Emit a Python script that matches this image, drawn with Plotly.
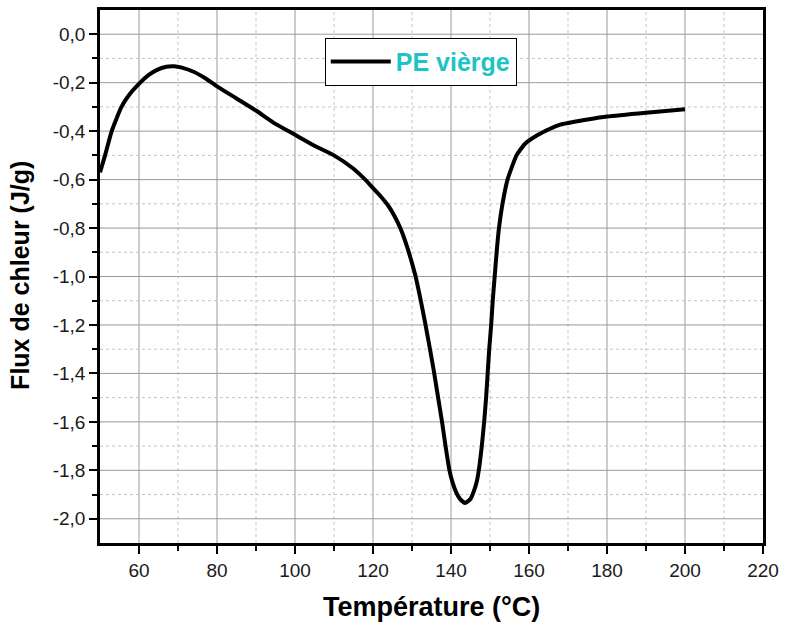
import plotly.graph_objects as go

# --- data ---
temperature = [50, 51.3, 53, 55.5, 57.5, 60.3, 62.5, 64.5, 67, 69, 71, 74, 77, 80, 85, 90, 95,
               100, 105, 110, 115, 118, 120, 122, 124, 125.5, 127, 128, 129, 130, 131, 132,
               133.3, 134.5, 135.6, 136.7, 137.7, 138.6, 139.6, 140.4, 141.3, 142.3, 143.6,
               145, 146, 146.7, 147.3, 147.9, 148.5, 149, 149.4, 149.8, 150.3, 150.7, 151.2,
               151.7, 152.3, 153.2, 154.5, 156.8, 159, 162, 165.4, 168, 171.3, 175, 180, 190, 200]
heat_flow = [-0.57, -0.50, -0.40, -0.30, -0.25, -0.20, -0.168, -0.148, -0.134, -0.132, -0.138,
             -0.155, -0.182, -0.215, -0.265, -0.315, -0.37, -0.415, -0.46, -0.50, -0.555, -0.60,
             -0.635, -0.67, -0.71, -0.75, -0.80, -0.842, -0.89, -0.945, -1.005, -1.08, -1.185,
             -1.29, -1.39, -1.5, -1.6, -1.7, -1.8, -1.85, -1.89, -1.918, -1.935, -1.918, -1.88,
             -1.84, -1.78, -1.7, -1.6, -1.5, -1.4, -1.3, -1.2, -1.1, -1.0, -0.9, -0.8, -0.7,
             -0.6, -0.5, -0.452, -0.418, -0.39, -0.373, -0.362, -0.352, -0.34, -0.324, -0.31]
series_name = "PE vièrge"
x_title = "Température (°C)"
y_title = "Flux de chleur (J/g)"

x_tickvals = [60, 80, 100, 120, 140, 160, 180, 200, 220]
x_ticktext = ["60", "80", "100", "120", "140", "160", "180", "200", "220"]
x_minor = [70, 90, 110, 130, 150, 170, 190, 210]
y_tickvals = [0.0, -0.2, -0.4, -0.6, -0.8, -1.0, -1.2, -1.4, -1.6, -1.8, -2.0]
y_ticktext = ["0,0", "-0,2", "-0,4", "-0,6", "-0,8", "-1,0", "-1,2", "-1,4", "-1,6", "-1,8", "-2,0"]
y_minor = [-0.1, -0.3, -0.5, -0.7, -0.9, -1.1, -1.3, -1.5, -1.7, -1.9]

FONT = "Liberation Sans, Arial, sans-serif"
MAJOR_GRID = dict(color="#9a9a9a", width=1)
MINOR_GRID = dict(color="#c4c4c4", width=1, dash="dot")

fig = go.Figure()

# grid lines (drawn below the data, from the tick lists)
for v in x_tickvals[:-1]:
    fig.add_vline(x=v, line=MAJOR_GRID, layer="below")
for v in x_minor:
    fig.add_vline(x=v, line=MINOR_GRID, layer="below")
for v in y_tickvals:
    fig.add_hline(y=v, line=MAJOR_GRID, layer="below")
for v in y_minor:
    fig.add_hline(y=v, line=MINOR_GRID, layer="below")

fig.add_trace(go.Scatter(
    x=temperature, y=heat_flow, mode="lines", name=series_name,
    line=dict(color="black", width=4, shape="spline", smoothing=0.5),
    showlegend=True,
))

axis_common = dict(
    showline=True, linecolor="black", linewidth=2.5, mirror=True,
    ticks="outside", ticklen=8, tickwidth=2, tickcolor="black",
    showgrid=False, zeroline=False,
    tickfont=dict(family=FONT, size=19, color="#1a1a1a"),
)
minor_common = dict(ticks="outside", ticklen=5, tickwidth=2, tickcolor="black", showgrid=False)

fig.update_xaxes(
    range=[50, 220], tickmode="array", tickvals=x_tickvals, ticktext=x_ticktext,
    minor=dict(tickmode="array", tickvals=x_minor, **minor_common),
    **axis_common,
)
fig.update_yaxes(
    range=[-2.1, 0.1], tickmode="array", tickvals=y_tickvals, ticktext=y_ticktext,
    minor=dict(tickmode="array", tickvals=y_minor, **minor_common),
    **axis_common,
)

# axis titles placed as paper-anchored text
fig.add_annotation(text=x_title, xref="paper", yref="paper", x=0.5, y=-0.12,
                   xanchor="center", yanchor="middle", showarrow=False,
                   font=dict(family=FONT, size=27, color="black", weight="bold"))
fig.add_annotation(text=y_title, xref="paper", yref="paper", x=-0.1207, y=0.503,
                   xanchor="center", yanchor="middle", showarrow=False, textangle=-90,
                   font=dict(family=FONT, size=25, color="black", weight="bold"))

fig.update_layout(
    width=785, height=633,
    margin=dict(l=100, r=22, t=10, b=90, autoexpand=False),
    paper_bgcolor="white", plot_bgcolor="white",
    font=dict(family=FONT),
    legend=dict(
        x=0.339, y=0.948, xanchor="left", yanchor="top",
        bgcolor="white", bordercolor="black", borderwidth=1,
        font=dict(family=FONT, size=25, color="#1ec4c4", weight="bold"),
        itemwidth=60, tracegroupgap=0,
    ),
)

fig.write_html("out.html", config={"displayModeBar": False},
               post_script="document.body.style.margin='0';")
